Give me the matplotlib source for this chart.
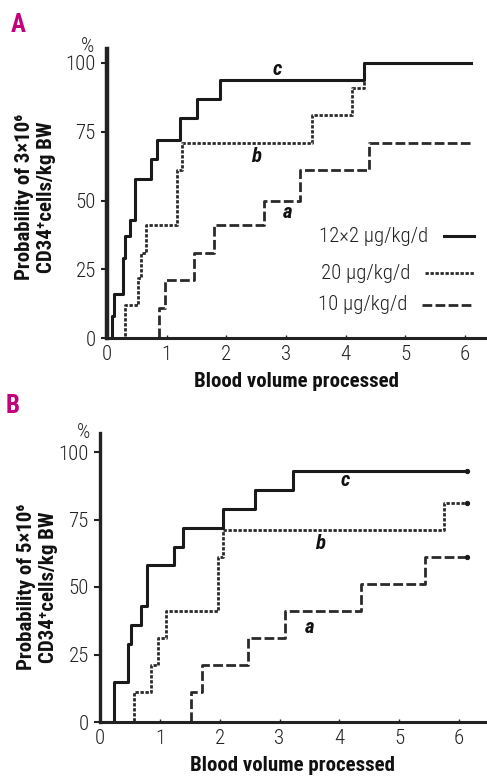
import matplotlib
matplotlib.use('Agg')
import matplotlib.pyplot as plt

plt.rcParams['font.family'] = ['Roboto Condensed', 'DejaVu Sans']

# panel A: probability of 3x10^6 CD34+ cells/kg BW
a_c_x = [0, 0.08, 0.12, 0.27, 0.31, 0.39, 0.47, 0.73, 0.84, 1.23, 1.51, 1.90, 4.30, 6.10]
a_c_y = [0, 8, 16, 29, 37, 43, 58, 65, 72, 80, 87, 94, 100, 100]
a_b_x = [0, 0.31, 0.52, 0.57, 0.65, 1.17, 1.26, 3.44, 4.10, 4.30, 6.10]
a_b_y = [0, 12, 22, 31, 41, 61, 71, 81, 91, 100, 100]
a_a_x = [0, 0.87, 0.98, 1.45, 1.79, 2.63, 3.24, 4.39, 6.10]
a_a_y = [0, 11, 21, 31, 41, 50, 61, 71, 71]

# panel B: probability of 5x10^6 CD34+ cells/kg BW
b_c_x = [0, 0.23, 0.47, 0.52, 0.69, 0.78, 1.23, 1.39, 2.06, 2.59, 3.23, 6.13]
b_c_y = [0, 15, 29, 36, 43, 58, 65, 72, 79, 86, 93, 93]
b_b_x = [0, 0.56, 0.86, 0.97, 1.10, 1.97, 2.06, 5.75, 6.13]
b_b_y = [0, 11, 21, 31, 41, 61, 71, 81, 81]
b_a_x = [0, 1.52, 1.70, 2.48, 3.09, 4.37, 5.43, 6.13]
b_a_y = [0, 11, 21, 31, 41, 51, 61, 61]

doses = ['12\u00d72 \u00b5g/kg/d', '20 \u00b5g/kg/d', '10 \u00b5g/kg/d']
yticks = [0, 25, 50, 75, 100]
xticks = [0, 1, 2, 3, 4, 5, 6]

W, H = 487, 776
fig = plt.figure(figsize=(W / 100, H / 100), dpi=100)

styles = {
    'c': dict(color='#1a1a1a', lw=2.2, ls='-'),
    'b': dict(color='#2a2a2a', lw=2.0, ls=(0, (1.2, 0.6))),
    'a': dict(color='#2a2a2a', lw=2.0, ls=(0, (3.5, 1.2))),
}


def make_axes(left_px, top_px, bottom_px, x0_px, x6_px):
    ax = fig.add_axes([left_px / W, 1 - bottom_px / H,
                       (485 - left_px) / W, (bottom_px - top_px) / H])
    unit = (x6_px - x0_px) / 6
    ax.set_xlim(0, (485 - left_px) / unit)
    return ax


def style_axes(ax, y100_px, y0_px, top_px, left_lw):
    per = (y0_px - y100_px) / 100
    ax.set_ylim(0, (y0_px - top_px) / per)
    for s in ['top', 'right']:
        ax.spines[s].set_visible(False)
    ax.spines['left'].set_linewidth(left_lw)
    ax.spines['bottom'].set_linewidth(2.2)
    ax.spines['left'].set_color('#222222')
    ax.spines['bottom'].set_color('#222222')
    ax.set_yticks(yticks)
    ax.set_xticks(xticks)
    ax.tick_params(axis='y', direction='out', length=4, width=1.5, pad=4,
                   labelsize=15, colors='#222222')
    ax.tick_params(axis='x', direction='in', length=2, width=1, pad=5,
                   labelsize=15, colors='#222222')
    for t in ax.get_xticklabels() + ax.get_yticklabels():
        t.set_fontweight('light')
    ax.set_xlabel('Blood volume processed', fontsize=15, fontweight='bold',
                  labelpad=6, color='#111111')


def draw(ax, cx, cy, bx, by, ax_, ay_, ends=False):
    la, = ax.step(ax_, ay_, where='post', **styles['a'])
    lb, = ax.step(bx, by, where='post', **styles['b'])
    lc, = ax.step(cx, cy, where='post', **styles['c'])
    if ends:
        for xs, ys in [(cx, cy), (bx, by), (ax_, ay_)]:
            ax.plot(xs[-1], ys[-1], 'o', ms=2.8, color='#1a1a1a')
    return lc, lb, la


def curve_label(ax, x, y, s):
    ax.text(x, y, s, fontsize=15, fontweight='bold', style='italic',
            ha='center', va='center', color='#111111')


# ---- panel A
axA = make_axes(107, 49, 338, 107, 465)
style_axes(axA, 63, 338, 49, 3.2)
draw(axA, a_c_x, a_c_y, a_b_x, a_b_y, a_a_x, a_a_y)
curve_label(axA, 2.85, 97.5, 'c')
curve_label(axA, 2.49, 66, 'b')
curve_label(axA, 3.02, 45.5, 'a')

# legend drawn as text + line samples
leg_y = [37, 23.5, 12]
leg_x0 = [5.64, 5.33, 5.28]
for lab, yy, x0, key in zip(doses, leg_y, leg_x0, ['c', 'b', 'a']):
    axA.text(x0 - 0.25, yy, lab, fontsize=15, fontweight='light',
             ha='right', va='center', color='#222222')
    axA.plot([x0, 6.15], [yy, yy], **styles[key])

fig.text(88 / W, 1 - 47 / H, '%', fontsize=15, fontweight='light',
         ha='center', va='center', color='#222222')
fig.text(18 / W, 1 - 25 / H, 'A', fontsize=18, fontweight='bold',
         color='#c4007c', ha='center', va='center')
fig.text(36 / W, 1 - 197 / H,
         'Probability of 3\u00d710\u2076\nCD34\u207acells/kg BW',
         fontsize=15, fontweight='bold', rotation=90, ha='center',
         va='center', multialignment='center', linespacing=1.2,
         color='#111111')

# ---- panel B
axB = make_axes(100, 433, 722, 100, 459)
style_axes(axB, 452, 722, 433, 2.4)
draw(axB, b_c_x, b_c_y, b_b_x, b_b_y, b_a_x, b_a_y, ends=True)
curve_label(axB, 4.1, 89.5, 'c')
curve_label(axB, 3.68, 66, 'b')
curve_label(axB, 3.51, 35, 'a')

fig.text(84 / W, 1 - 433 / H, '%', fontsize=15, fontweight='light',
         ha='center', va='center', color='#222222')
fig.text(13 / W, 1 - 406 / H, 'B', fontsize=18, fontweight='bold',
         color='#c4007c', ha='center', va='center')
fig.text(38 / W, 1 - 587 / H,
         'Probability of 5\u00d710\u2076\nCD34\u207acells/kg BW',
         fontsize=15, fontweight='bold', rotation=90, ha='center',
         va='center', multialignment='center', linespacing=1.2,
         color='#111111')

fig.savefig('out.png', dpi=100)
